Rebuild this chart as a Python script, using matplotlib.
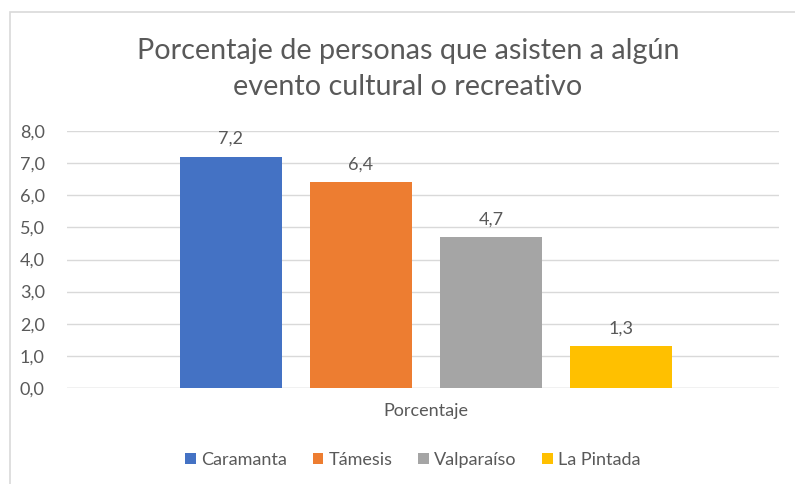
import matplotlib.pyplot as plt
from matplotlib.patches import Rectangle

# Datos del gráfico
municipios = ['Caramanta', 'Támesis', 'Valparaíso', 'La Pintada']
porcentajes = [7.2, 6.4, 4.7, 1.3]
colores = ['#4472C4', '#ED7D31', '#A5A5A5', '#FFC000']
ticks_y = [0, 1, 2, 3, 4, 5, 6, 7, 8]

plt.rcParams['font.family'] = ['Lato', 'DejaVu Sans']
gris = '#595959'

fig = plt.figure(figsize=(7.95, 4.84), dpi=100)
fig.patches.append(Rectangle((10 / 795, -0.1), 1.1, 1 - 12 / 484 + 0.1,
                             transform=fig.transFigure, fill=False,
                             edgecolor='#D9D9D9', linewidth=1.2))

ax = fig.add_axes([67 / 795, 1 - 388 / 484, (779 - 67) / 795, (388 - 131) / 484])

x = list(range(len(municipios)))
barras = ax.bar(x, porcentajes, width=0.785, color=colores, label=municipios, zorder=3)

for xi, v in zip(x, porcentajes):
    ax.text(xi, v + 0.3, f'{v:.1f}'.replace('.', ','), ha='center', va='bottom',
            fontsize=13, color=gris)

ax.set_xlim(-1.26, 4.215)
ax.set_ylim(0, 8)
ax.set_yticks(ticks_y)
ax.set_yticklabels([f'{t:.1f}'.replace('.', ',') for t in ticks_y], fontsize=13, color=gris)
ax.tick_params(axis='y', length=0, pad=16)
ax.set_xticks([])
ax.grid(axis='y', color='#D9D9D9', linewidth=1, zorder=0)
for s in ax.spines.values():
    s.set_visible(False)
ax.axhline(0, color='#D9D9D9', linewidth=1, zorder=1)

fig.text(426 / 795, 1 - 411 / 484, 'Porcentaje', ha='center', va='center',
         fontsize=13, color=gris)

fig.text(408 / 795, 1 - 69 / 484,
         'Porcentaje de personas que asisten a algún\nevento cultural o recreativo',
         ha='center', va='center', fontsize=20.7, color=gris, linespacing=1.45)

ax.legend(handles=barras, labels=municipios, loc='center',
          bbox_to_anchor=(413 / 795, 1 - 460 / 484), bbox_transform=fig.transFigure,
          ncol=4, frameon=False, fontsize=13, labelcolor=gris,
          handlelength=0.6, handleheight=0.6, handletextpad=0.3, columnspacing=1.4)

fig.savefig('out.png', dpi=100)
